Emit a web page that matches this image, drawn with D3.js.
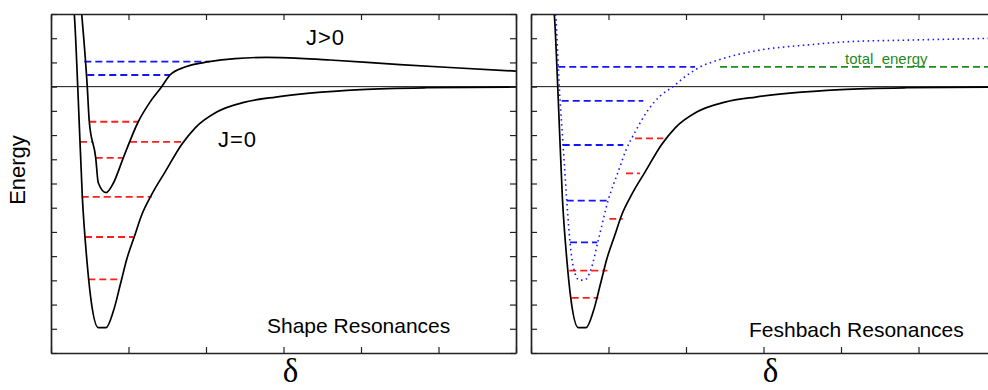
<!DOCTYPE html>
<html>
<head>
<meta charset="utf-8">
<script src="https://cdn.jsdelivr.net/npm/d3@7/dist/d3.min.js"></script>
<style>
  html, body { margin: 0; padding: 0; background: #fff; }
  svg { display: block; }
  text { font-family: "Liberation Sans", Arial, sans-serif; }
</style>
</head>
<body>
<svg id="chart" width="988" height="390"></svg>
<script>
// Axis grid (arbitrary units along the internuclear distance and energy)
const xTickValues = [0, 1, 2, 3, 4, 5, 6];
const yTickValues = [-11, -10, -9, -8, -7, -6, -5, -4, -3, -2, -1, 0, 1, 2, 3];

// Deep s-wave potential (J=0 / open channel), [delta, energy]
const wellJ0 = [
  [0.285, 3.4], [0.30, 3.0], [0.345, 0.0], [0.405, -4.6], [0.465, -7.24],
  [0.51, -8.65], [0.61, -9.95], [0.71, -9.95], [0.804, -9.28], [0.90, -8.1],
  [0.98, -7.1], [1.08, -6.15], [1.17, -5.3], [1.30, -4.45], [1.471, -3.53],
  [1.686, -2.39], [1.858, -1.71], [2.138, -1.05], [2.503, -0.64], [2.9, -0.43],
  [3.34, -0.27], [4.0, -0.12], [4.85, -0.045], [6.0, -0.015]
];

// Potential with centrifugal barrier (J>0)
const wellJpos = [
  [0.385, 3.4], [0.396, 3.0], [0.468, 0.0], [0.494, -1.45], [0.577, -2.94],
  [0.61, -3.97], [0.71, -4.38], [0.804, -3.99], [0.933, -2.94], [1.126, -1.45],
  [1.277, -0.64], [1.428, 0.0], [1.535, 0.48], [1.729, 0.81], [2.04, 1.03],
  [2.374, 1.16], [2.78, 1.21], [3.213, 1.17], [3.6, 1.10], [4.503, 0.91],
  [5.148, 0.79], [6.0, 0.64]
];

// Closed-channel potential (dotted)
const closedChannel = [
  [0.31, 3.4], [0.319, 3.0], [0.365, 0.0], [0.414, -2.41], [0.461, -4.68],
  [0.503, -6.42], [0.546, -7.44], [0.623, -7.99], [0.688, -7.99], [0.77, -7.58],
  [0.868, -6.34], [0.997, -4.68], [1.123, -3.53], [1.226, -2.62], [1.342, -1.88],
  [1.51, -0.97], [1.665, -0.39], [1.832, 0.0], [2.0, 0.44], [2.181, 0.81],
  [2.439, 1.12], [2.955, 1.51], [3.557, 1.72], [4.116, 1.86], [4.848, 1.92],
  [6.0, 2.0]
];

// Shape resonances: bound levels (red) and quasi-bound levels (blue)
const shapeBound = [
  { e: -1.45, x0: 0.494, x1: 1.126 },
  { e: -2.28, x0: 0.374, x1: 0.535 },
  { e: -2.28, x0: 1.02, x1: 1.686 },
  { e: -2.94, x0: 0.577, x1: 0.933 },
  { e: -4.55, x0: 0.396, x1: 1.299 },
  { e: -6.21, x0: 0.439, x1: 1.062 },
  { e: -7.96, x0: 0.481, x1: 0.855 }
];
const shapeQuasi = [
  { e: 1.03, x0: 0.43, x1: 2.043 },
  { e: 0.48, x0: 0.468, x1: 1.535 }
];

// Feshbach resonances: open-channel levels (red) and closed-channel levels (blue)
const feshOpen = [
  { e: -2.14, x0: 1.342, x1: 1.707 },
  { e: -3.58, x0: 1.226, x1: 1.406 },
  { e: -5.46, x0: 1.01, x1: 1.183 },
  { e: -7.60, x0: 0.494, x1: 0.985 },
  { e: -8.72, x0: 0.525, x1: 0.868 }
];
const feshClosed = [
  { e: 0.82, x0: 0.352, x1: 2.116 },
  { e: -0.59, x0: 0.396, x1: 1.449 },
  { e: -2.41, x0: 0.409, x1: 1.191 },
  { e: -4.71, x0: 0.461, x1: 0.985 },
  { e: -6.43, x0: 0.503, x1: 0.855 }
];
const totalEnergy = [{ e: 0.82, x0: 2.439, x1: 6.0 }];

const BLUE = "#1414ff", RED = "#ff1e1e", GREEN = "#1f8a1f";

const svg = d3.select("#chart");
const y = d3.scaleLinear().domain([-11, 3]).range([353, 14]);

function panel(id, left) {
  const x = d3.scaleLinear().domain([0, 6]).range([left, left + 465]);
  const g = svg.append("g");

  g.append("clipPath").attr("id", id)
    .append("rect")
    .attr("x", x(0)).attr("y", y(3))
    .attr("width", x(6) - x(0)).attr("height", y(-11) - y(3));

  const plot = g.append("g").attr("clip-path", `url(#${id})`);

  // zero-energy reference
  plot.append("line")
    .attr("x1", x(0)).attr("x2", x(6))
    .attr("y1", y(0)).attr("y2", y(0))
    .attr("stroke", "#111").attr("stroke-width", 1);

  // frame with inward ticks
  const axStyle = sel => {
    sel.selectAll("path.domain").attr("stroke", "#222").attr("stroke-width", 1.7);
    sel.selectAll(".tick line").attr("stroke", "#222").attr("stroke-width", 1.2);
    sel.selectAll(".tick text").remove();
  };
  g.append("g").attr("transform", `translate(0,${y(3)})`)
    .call(d3.axisBottom(x).tickValues(xTickValues).tickSizeInner(6).tickSizeOuter(0).tickFormat(""))
    .call(axStyle);
  g.append("g").attr("transform", `translate(0,${y(-11)})`)
    .call(d3.axisTop(x).tickValues(xTickValues).tickSizeInner(6).tickSizeOuter(0).tickFormat(""))
    .call(axStyle);
  g.append("g").attr("transform", `translate(${x(0)},0)`)
    .call(d3.axisRight(y).tickValues(yTickValues).tickSizeInner(6).tickSizeOuter(0).tickFormat(""))
    .call(axStyle);
  g.append("g").attr("transform", `translate(${x(6)},0)`)
    .call(d3.axisLeft(y).tickValues(yTickValues).tickSizeInner(6).tickSizeOuter(0).tickFormat(""))
    .call(axStyle);

  const line = d3.line().x(d => x(d[0])).y(d => y(d[1])).curve(d3.curveMonotoneX);

  const levels = (data, color) => {
    plot.append("g").selectAll("line").data(data).join("line")
      .attr("x1", d => x(d.x0)).attr("x2", d => x(d.x1))
      .attr("y1", d => y(d.e)).attr("y2", d => y(d.e))
      .attr("stroke", color).attr("stroke-width", 1.8)
      .attr("stroke-dasharray", "7,4");
  };

  return { x, plot, line, levels, g };
}

// ---- Shape resonances ----
const L = panel("clipL", 51);
L.levels(shapeBound, RED);
L.levels(shapeQuasi, BLUE);
L.plot.append("path").datum(wellJ0).attr("d", L.line)
  .attr("fill", "none").attr("stroke", "#000").attr("stroke-width", 1.7);
L.plot.append("path").datum(wellJpos).attr("d", L.line)
  .attr("fill", "none").attr("stroke", "#000").attr("stroke-width", 1.7);
L.g.append("text").attr("x", 306).attr("y", 45).attr("font-size", 22)
  .attr("letter-spacing", 1).text("J>0");
L.g.append("text").attr("x", 218).attr("y", 147).attr("font-size", 22)
  .attr("letter-spacing", 1).text("J=0");
L.g.append("text").attr("x", 267).attr("y", 333).attr("font-size", 21).text("Shape Resonances");

// ---- Feshbach resonances ----
const R = panel("clipR", 531);
R.levels(feshOpen, RED);
R.levels(feshClosed, BLUE);
R.levels(totalEnergy, GREEN);
R.plot.append("path").datum(closedChannel).attr("d", R.line)
  .attr("fill", "none").attr("stroke", BLUE).attr("stroke-width", 1.6)
  .attr("stroke-dasharray", "1.5,3.5");
R.plot.append("path").datum(wellJ0).attr("d", R.line)
  .attr("fill", "none").attr("stroke", "#000").attr("stroke-width", 1.7);
R.g.append("text").attr("x", 845).attr("y", 63.5).attr("font-size", 15)
  .attr("fill", GREEN).style("white-space", "pre").text("total  energy");
R.g.append("text").attr("x", 749).attr("y", 337).attr("font-size", 21).text("Feshbach Resonances");

// ---- axis titles ----
svg.append("text")
  .attr("transform", "translate(25,170) rotate(-90)")
  .attr("text-anchor", "middle").attr("font-size", 22).text("Energy");
[L.x, R.x].forEach(sx => {
  svg.append("text")
    .attr("x", sx(3) + 7).attr("y", 382)
    .attr("text-anchor", "middle")
    .style("font-family", "'Liberation Serif', 'Times New Roman', serif")
    .attr("font-size", 33).text("δ");
});
</script>
</body>
</html>
